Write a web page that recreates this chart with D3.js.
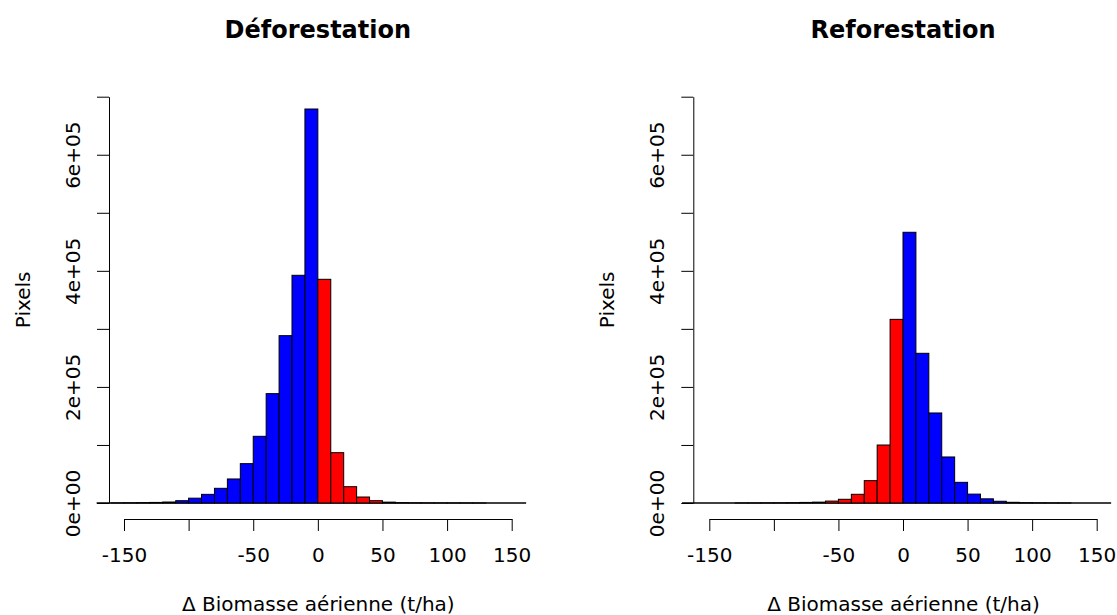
<!DOCTYPE html>
<html>
<head>
<meta charset="utf-8">
<script src="https://cdn.jsdelivr.net/npm/d3@7"></script>
<style>
  html, body { margin: 0; padding: 0; background: #fff; }
  svg { display: block; font-family: "DejaVu Sans", sans-serif; }
</style>
</head>
<body>
<svg id="chart" width="1117" height="615"></svg>
<script>
// Bin lower edges (t/ha), bin width 10
const binStarts = [-170,-160,-150,-140,-130,-120,-110,-100,-90,-80,-70,-60,-50,-40,-30,-20,-10,
                   0,10,20,30,40,50,60,70,80,90,100,110,120,130,140,150];
const binWidth = 10;

// Déforestation counts per bin
const deforestation = [0,100,300,600,1000,1700,4000,8300,14900,25300,41400,67800,114900,188400,288300,392300,678800,
                       385400,86700,28100,10300,4000,1500,700,300,150,80,40,20,10,0,0,0];
// Reforestation counts per bin
const reforestation = [0,0,0,0,50,100,200,300,600,1000,1500,3300,6400,15000,38500,99900,316400,
                       466400,257900,155100,79300,35600,15300,7200,3000,1200,500,200,100,50,0,0,0];

const titles = ["Déforestation", "Reforestation"];
const xTicks = [-150,-100,-50,0,50,100,150];
const xTickLabels = ["-150","","-50","0","50","100","150"];
const yTicks = [0,100000,200000,300000,400000,500000,600000,700000];
const yTickLabels = ["0e+00","","2e+05","","4e+05","","6e+05",""];
const xLabel = "Δ Biomasse aérienne (t/ha)";
const yLabel = "Pixels";

const svg = d3.select("#chart");

const panels = [
  { title: titles[0], data: deforestation, negColor: "#0000FF", posColor: "#FF0000",
    xRange: [124, 511.7], yAxisX: 109 },
  { title: titles[1], data: reforestation, negColor: "#FF0000", posColor: "#0000FF",
    xRange: [709.3, 1096.7], yAxisX: 693.3 }
];

const yScale = d3.scaleLinear().domain([0, 700000]).range([503, 96.7]);

panels.forEach(p => {
  const x = d3.scaleLinear().domain([-150, 150]).range(p.xRange);
  const g = svg.append("g");

  // zero-height bins show as a baseline across the full bin range
  g.append("line")
    .attr("x1", x(binStarts[0]) - 1.5)
    .attr("x2", x(binStarts[binStarts.length - 1] + binWidth) + 1.5)
    .attr("y1", yScale(0))
    .attr("y2", yScale(0))
    .attr("stroke", "#000")
    .attr("stroke-width", 1.6);

  // bars
  g.selectAll("rect.bar")
    .data(binStarts.map((s, i) => ({ lo: s, hi: s + binWidth, v: p.data[i] })))
    .join("rect")
    .attr("class", "bar")
    .attr("x", d => x(d.lo))
    .attr("width", d => x(d.hi) - x(d.lo))
    .attr("y", d => yScale(d.v))
    .attr("height", d => yScale(0) - yScale(d.v))
    .attr("fill", d => d.lo < 0 ? p.negColor : p.posColor)
    .attr("stroke", "#000")
    .attr("stroke-width", 1);

  // x axis (separate, below)
  const xAxis = d3.axisBottom(x)
    .tickValues(xTicks)
    .tickSize(12)
    .tickSizeOuter(0)
    .tickPadding(17)
    .tickFormat((d, i) => xTickLabels[i]);
  const gx = g.append("g")
    .attr("transform", "translate(0,519)")
    .call(xAxis);
  gx.selectAll("text").attr("font-size", 20).attr("font-family", "DejaVu Sans").attr("fill", "#000");
  gx.selectAll("line, path").attr("stroke", "#000");

  // y axis
  const yAxis = d3.axisLeft(yScale)
    .tickValues(yTicks)
    .tickSize(12)
    .tickSizeOuter(0)
    .tickFormat((d, i) => yTickLabels[i]);
  const gy = g.append("g")
    .attr("transform", `translate(${p.yAxisX},0)`)
    .call(yAxis);
  gy.selectAll("line, path").attr("stroke", "#000");
  gy.selectAll("text")
    .attr("font-size", 20)
    .attr("font-family", "DejaVu Sans")
    .attr("fill", "#000")
    .attr("transform", "rotate(-90)")
    .attr("x", 0)
    .attr("y", -29)
    .attr("dy", 0)
    .attr("text-anchor", "middle");

  // title
  const cx = x(0);
  g.append("text")
    .attr("x", cx)
    .attr("y", 38)
    .attr("text-anchor", "middle")
    .attr("font-size", 24)
    .attr("font-weight", "bold")
    .text(p.title);

  // x label
  g.append("text")
    .attr("x", cx + 0.5)
    .attr("y", 611)
    .attr("text-anchor", "middle")
    .attr("font-size", 20)
    .text(xLabel);

  // y label
  const ly = p.yAxisX - 79;
  g.append("text")
    .attr("transform", `translate(${ly},${yScale(350000)}) rotate(-90)`)
    .attr("text-anchor", "middle")
    .attr("font-size", 20)
    .text(yLabel);
});
</script>
</body>
</html>
